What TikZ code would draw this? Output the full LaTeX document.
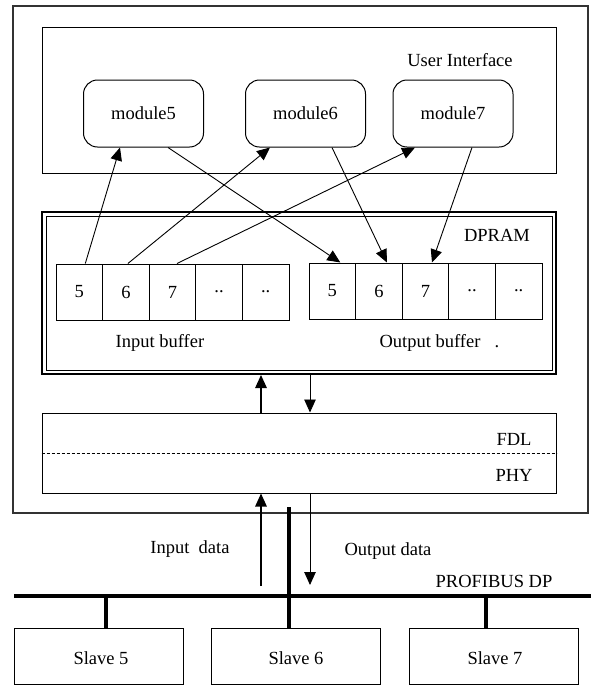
\documentclass[tikz,border=0pt]{standalone}
\usepackage{fontspec}
\setmainfont{Liberation Serif}
\usetikzlibrary{arrows.meta,calc}
\begin{document}
\begin{tikzpicture}[x=1pt,y=-1pt,
  every node/.style={font=\fontsize{18.5}{22}\selectfont, inner sep=0pt},
  box/.style={draw, line width=1pt},
  module/.style={box, rounded corners=14pt, minimum width=120pt, minimum height=67pt},
  cell/.style={box, minimum width=46.6pt, minimum height=56pt},
  slavebox/.style={box, minimum width=169pt, minimum height=56pt},
  conn/.style={line width=0.9pt, -{Triangle[length=13pt,width=11.5pt]}},
  bus/.style={line width=4pt},
  drop/.style={line width=3.5pt}]
\useasboundingbox (0,0) rectangle (593,686);

% master station frame
\node[draw=black!80, line width=1.1pt, minimum width=575pt, minimum height=507pt] (master) at (300.5,259.5) {};

% user interface layer with its modules
\node[box, minimum width=514pt, minimum height=146pt] (ui) at (299,100) {};
\node (uilabel) at (460,60) {User Interface};
\node[module] (m5) at (143.5,113.5) {module5};
\node[module] (m6) at (305.5,113.5) {module6};
\node[module] (m7) at (453,113.5) {module7};

% dual-port RAM, double border
\node[draw, line width=2pt, minimum width=514pt, minimum height=162pt] (dpram) at (299,293) {};
\node[draw, line width=0.7pt, minimum width=506pt, minimum height=154pt] (dpramin) at (299,293) {};
\node (dpramlabel) at (497,235) {DPRAM};

\foreach \i/\t in {0/5,1/6,2/7,3/..,4/..}{
  \node[cell] (in\i) at (79.3+46.6*\i,292) {\t};
  \node[cell] (out\i) at (332.3+46.6*\i,291) {\t};
}
\node (inlabel) at (160,343) {Input buffer};
\node (outlabel) at (430,343) {Output buffer};
\node (outdot) at (497,347) {.};

% inputs go up to the modules, modules write the outputs
\draw[conn] ([xshift=6pt]in0.north) -- ([xshift=-23.5pt]m5.south);
\draw[conn] ([xshift=2pt]in1.north) -- ([xshift=-35.5pt]m6.south);
\draw[conn] ([xshift=4.5pt]in2.north) -- ([xshift=-38pt]m7.south);
\draw[conn] ([xshift=24.5pt]m5.south) -- ([xshift=8pt]out0.north);
\draw[conn] ([xshift=26.5pt]m6.south) -- ([xshift=8pt]out1.north);
\draw[conn] ([xshift=19pt]m7.south) -- ([xshift=6.5pt]out2.north);

% protocol stack
\node[box, minimum width=514pt, minimum height=80pt] (fdl) at (299,453) {};
\draw[dash pattern=on 3pt off 2pt, line width=0.8pt] (fdl.west) -- (fdl.east);
\node (fdllabel) at (514,439) {FDL};
\node (phylabel) at (514,475) {PHY};

\coordinate (upx) at (261,0);
\coordinate (dnx) at (310,0);
\draw[conn, line width=1.4pt] (fdl.north -| upx) -- (dpram.south -| upx);
\draw[conn] (dpram.south -| dnx) -- (fdl.north -| dnx);

% field bus and slaves
\coordinate (busl) at (14,596);
\coordinate (busr) at (591,596);
\draw[bus] (busl) -- (busr);
\node (buslabel) at (494,581) {PROFIBUS DP};

\node[slavebox] (s5) at (98.5,656) {};
\node[slavebox] (s6) at (296,656) {};
\node[slavebox] (s7) at (493.5,656) {};
\node (s5label) at (101,658) {Slave 5};
\node (s6label) at (296,658) {Slave 6};
\node (s7label) at (495,658) {Slave 7};

\coordinate (tap5) at (106,596);
\coordinate (tap7) at (486,596);
\coordinate (tap6) at (289,507);
\draw[drop] (tap5) -- (tap5 |- s5.north);
\draw[drop] (tap7) -- (tap7 |- s7.north);
\draw[drop] (tap6) -- (tap6 |- s6.north);

\coordinate (inend) at (261,586);
\coordinate (outend) at (310,585);
\draw[conn, line width=1.3pt] (inend) -- (fdl.south -| inend);
\draw[conn] (fdl.south -| outend) -- (outend);
\node (indata) at (190,549) {Input~ data};
\node (outdata) at (388,551) {Output data};
\end{tikzpicture}
\end{document}
